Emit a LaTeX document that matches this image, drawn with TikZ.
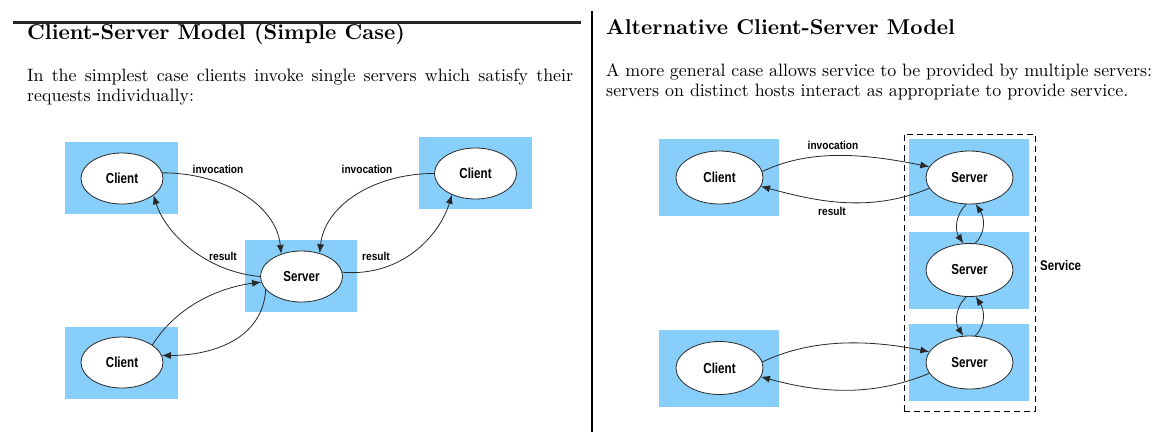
\documentclass[tikz,border=0pt]{standalone}
\usepackage{fontspec}
\setmainfont{lmroman10-regular}[Extension=.otf, BoldFont=lmroman10-bold]
\newfontfamily\labfont{Liberation Sans}
\usetikzlibrary{arrows.meta,shapes.geometric}
\definecolor{boxblue}{RGB}{135,206,250}
\definecolor{edgegray}{RGB}{40,40,40}
\newcommand\narrow[2]{\scalebox{#1}[1]{#2}}
\tikzset{
  hostbox/.style={fill=boxblue, draw=none, inner sep=0pt},
  lproc/.style={ellipse, draw=edgegray, line width=0.8pt, fill=white, inner sep=0pt,
    minimum width=82pt, minimum height=51pt, font=\labfont\bfseries\fontsize{14.5}{16}\selectfont},
  rproc/.style={lproc, minimum width=87pt, minimum height=53pt},
  arr/.style={draw=edgegray, line width=0.8pt, -{Latex[length=9pt,width=7pt]}},
  elabel/.style={font=\labfont\bfseries\fontsize{11.5}{13}\selectfont, inner sep=0pt},
  title/.style={anchor=base west, inner sep=0pt, font=\fontsize{21.4}{25}\selectfont\bfseries},
  body/.style={anchor=base west, inner sep=0pt, font=\fontsize{17.9}{21}\selectfont},
}
\begin{document}
\begin{tikzpicture}[x=1pt,y=-1pt]
\useasboundingbox (0,0) rectangle (1175,437);
\fill[white] (0,0) rectangle (1175,437);
% rules
\draw[line width=3pt, draw=black!85] (13,22.5) -- (581,22.5);
\draw[line width=1.2pt] (592,11) -- (592,432);
% texts
\node[title] (t1) at (27,39) {Client-Server Model (Simple Case)};
\node[body] (b1) at (27,81) {\makebox[546pt][s]{In the simplest case clients invoke single servers which satisfy their}};
\node[body] (b2) at (27,101) {requests individually:};
\node[title] (t2) at (606,34) {Alternative Client-Server Model};
\node[body] (b3) at (606,76) {\makebox[546pt][s]{A more general case allows service to be provided by multiple servers:}};
\node[body] (b4) at (606,96) {servers on distinct hosts interact as appropriate to provide service.};
% ---------- left diagram ----------
\node[hostbox, minimum width=113pt, minimum height=72pt] (hc1) at (121.5,178) {};
\node[hostbox, minimum width=113pt, minimum height=72pt] (hc2) at (475.5,173) {};
\node[hostbox, minimum width=112pt, minimum height=72pt] (hs) at (301,276) {};
\node[hostbox, minimum width=113pt, minimum height=72pt] (hc3) at (121.5,363) {};
\node[lproc] (c1) at (122,178.5) {\narrow{0.8}{Client}};
\node[lproc] (c2) at (475.5,173.5) {\narrow{0.8}{Client}};
\node[lproc] (s) at (301.5,276.5) {\narrow{0.8}{Server}};
\node[lproc] (c3) at (122,362.5) {\narrow{0.8}{Client}};
\draw[arr] (c1.8) .. controls +(60,0) and +(-5,-50) .. (s.132);
\draw[arr] (s.180) .. controls +(-55,-5) and +(12,38) .. (c1.-28);
\draw[arr] (c2.180) .. controls +(-60,0) and +(5,-48) .. (s.52);
\draw[arr] (s.6) .. controls +(60,5) and +(-12,40) .. (c2.-138);
\draw[arr] (c3.30) .. controls +(25,-40) and +(-40,5) .. (s.188);
\draw[arr] (s.-160) .. controls +(-3,50) and +(50,0) .. (c3.10);
\node[elabel] (li1) at (218,169) {\narrow{0.88}{invocation}};
\node[elabel] (li2) at (367,169) {\narrow{0.88}{invocation}};
\node[elabel] (lr1) at (223,256) {\narrow{0.88}{result}};
\node[elabel] (lr2) at (376,256) {\narrow{0.88}{result}};
% ---------- right diagram ----------
\node[hostbox, minimum width=120pt, minimum height=77pt] (hA) at (719,177.5) {};
\node[hostbox, minimum width=120pt, minimum height=77pt] (hB) at (719,368.5) {};
\node[hostbox, minimum width=120pt, minimum height=77pt] (hS1) at (969,177.5) {};
\node[hostbox, minimum width=120pt, minimum height=77pt] (hS2) at (969,270.5) {};
\node[hostbox, minimum width=120pt, minimum height=77pt] (hS3) at (969,362.5) {};
\node[draw, dashed, dash pattern=on 6pt off 4pt, line width=0.9pt, inner sep=0pt,
  minimum width=131pt, minimum height=277pt] (svc) at (969.5,272.5) {};
\node[rproc] (A) at (719.5,177.5) {\narrow{0.8}{Client}};
\node[rproc] (B) at (719.5,368) {\narrow{0.8}{Client}};
\node[rproc] (S1) at (969.5,177.5) {\narrow{0.8}{Server}};
\node[rproc] (S2) at (969.5,270) {\narrow{0.8}{Server}};
\node[rproc] (S3) at (969.5,362.5) {\narrow{0.8}{Server}};
\draw[arr] (A.8) .. controls +(50,-24) and +(-60,-12) .. (S1.165);
\draw[arr] (S1.195) .. controls +(-60,25) and +(55,15) .. (A.-12);
\draw[arr] (B.8) .. controls +(50,-24) and +(-60,-12) .. (S3.165);
\draw[arr] (S3.195) .. controls +(-60,25) and +(55,15) .. (B.-12);
\draw[arr] (S1.-97) .. controls +(-12,12) and +(-8,-12) .. (S2.103);
\draw[arr] (S2.78) .. controls +(12,-12) and +(8,12) .. (S1.-77);
\draw[arr] (S2.-97) .. controls +(-12,12) and +(-8,-12) .. (S3.103);
\draw[arr] (S3.78) .. controls +(12,-12) and +(8,12) .. (S2.-77);
\node[elabel] (ri) at (833,145) {\narrow{0.88}{invocation}};
\node[elabel] (rr) at (832,211) {\narrow{0.88}{result}};
\node[elabel, font=\labfont\bfseries\fontsize{14}{16}\selectfont, anchor=west] (svl) at (1040,265) {\narrow{0.82}{Service}};
\end{tikzpicture}
\end{document}
